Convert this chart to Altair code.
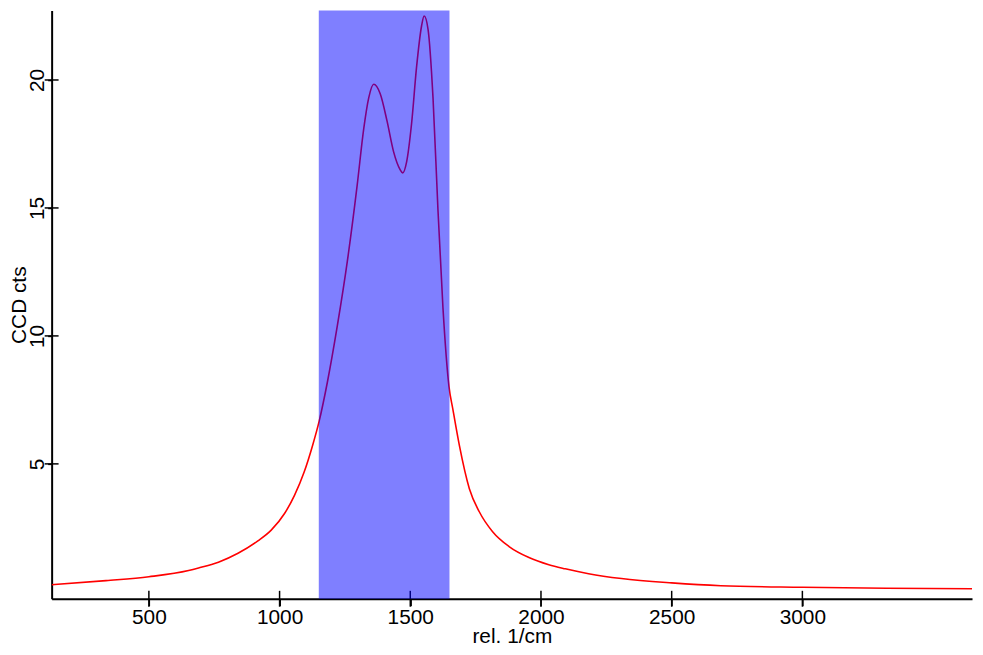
import altair as alt
import pandas as pd

# Raman-like spectrum
wavenumber = [128, 336, 500, 652, 690, 766, 841, 917, 968, 1019, 1057, 1094, 1126, 1151,
              1183, 1221, 1259, 1297, 1322, 1341, 1360, 1385, 1411, 1436, 1461, 1471,
              1486, 1505, 1524, 1543, 1553, 1568, 1587, 1606, 1625, 1648, 1663, 1688,
              1726, 1764, 1815, 1878, 1954, 2030, 2093, 2182, 2308, 2500, 2688, 3000,
              3321, 3649]
counts = [0.28, 0.44, 0.59, 0.83, 0.93, 1.16, 1.51, 1.99, 2.41, 3.06, 3.77, 4.68, 5.71, 6.65,
          8.2, 10.4, 12.9, 15.9, 18.1, 19.3, 19.83, 19.46, 18.4, 17.2, 16.5, 16.37,
          16.8, 18.3, 20.5, 22.1, 22.5, 21.98, 19.3, 14.9, 11.1, 8.03, 7.13, 5.71,
          4.03, 3.13, 2.35, 1.77, 1.34, 1.06, 0.90, 0.71, 0.52, 0.35, 0.24, 0.18,
          0.14, 0.12]

band_start = [1150]
band_end = [1650]

x_ticks = [500, 1000, 1500, 2000, 2500, 3000]
y_ticks = [5, 10, 15, 20]
x_domain = [128, 3649]
y_domain = [-0.27, 22.71]

df = pd.DataFrame({"x": wavenumber, "y": counts})
band = pd.DataFrame({"x": band_start, "x2": band_end})
xt = pd.DataFrame({"x": x_ticks})
yt = pd.DataFrame({"y": y_ticks})

FONT = "Liberation Sans"
xscale = alt.Scale(domain=x_domain, nice=False, zero=False)
yscale = alt.Scale(domain=y_domain, nice=False, zero=False)

common = dict(grid=False, domainColor="black", tickColor="black", labelColor="black",
              titleColor="black", labelFont=FONT, titleFont=FONT, labelFontSize=21,
              titleFontSize=21, titleFontWeight="normal", tickWidth=1.5, domainWidth=2,
              format="d", labelFlush=False)

x_axis = alt.Axis(values=x_ticks, title="rel. 1/cm", orient="bottom", tickSize=7,
                  labelPadding=1, titleBaseline="alphabetic", titleY=44, **common)
y_axis = alt.Axis(values=y_ticks, title="CCD cts", orient="left", tickSize=4,
                  labelAngle=270, labelAlign="center", labelBaseline="bottom",
                  labelPadding=0, titleAngle=270, titleBaseline="alphabetic",
                  titleX=-26, **common)

X = alt.X("x:Q", scale=xscale, axis=x_axis)
Y = alt.Y("y:Q", scale=yscale, axis=y_axis)

# tick marks that cross the axis lines, placed through the scales
xticks_layer = alt.Chart(xt).mark_tick(orient="vertical", size=16, thickness=1.5,
                                       color="black", opacity=1).encode(
    x=X, y=alt.datum(y_domain[0], scale=yscale))
yticks_layer = alt.Chart(yt).mark_tick(orient="horizontal", size=14, thickness=1.5,
                                       color="black", opacity=1).encode(
    y=Y, x=alt.datum(x_domain[0], scale=xscale))

line = alt.Chart(df).mark_line(color="#FF0000", strokeWidth=1.6,
                               interpolate="monotone", clip=True).encode(x=X, y=Y)

rect = alt.Chart(band).mark_rect(color="#0000FF", opacity=0.5).encode(
    x=X, x2="x2:Q")

chart = alt.layer(xticks_layer, yticks_layer, line, rect).properties(
    width=928, height=593,
    autosize=alt.AutoSizeParams(type="none"),
    padding={"left": 44, "top": 0, "right": 3, "bottom": 46},
).configure(background="white").configure_view(stroke=None)

chart.save("out.html", embed_options={"renderer": "svg", "actions": False})
